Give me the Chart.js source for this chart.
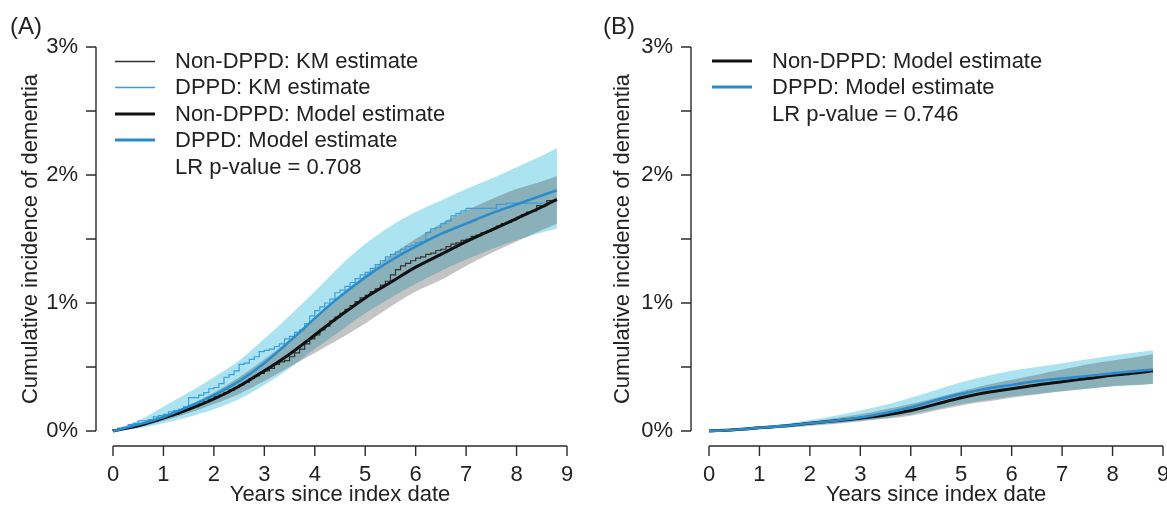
<!DOCTYPE html>
<html>
<head>
<meta charset="utf-8">
<script src="https://cdn.jsdelivr.net/npm/chart.js@4"></script>
<style>
  body { margin: 0; background: #fff; width: 1167px; height: 508px; overflow: hidden; position: relative; }
  .panel { position: absolute; top: 0; }
</style>
</head>
<body>
<div class="panel" style="left:0"><canvas id="chartA" width="583" height="508"></canvas></div>
<div class="panel" style="left:584px"><canvas id="chartB" width="583" height="508"></canvas></div>
<script>
// shared time grid of the model curves (years since index date)
const modelYears = [0, 0.5, 1, 1.5, 2, 2.5, 3, 3.5, 4, 4.5, 5, 5.5, 6, 6.5, 7, 7.5, 8, 8.5, 8.8];

// panel A, cumulative incidence in %
const aBlackModel = [0, 0.04, 0.10, 0.17, 0.25, 0.35, 0.47, 0.60, 0.75, 0.90, 1.04, 1.16, 1.28, 1.38, 1.48, 1.57, 1.66, 1.75, 1.81];
const aBlueModel = [0, 0.05, 0.11, 0.19, 0.28, 0.39, 0.53, 0.70, 0.88, 1.05, 1.20, 1.33, 1.44, 1.54, 1.62, 1.70, 1.77, 1.84, 1.88];
const aBlueUpper = [0, 0.08, 0.19, 0.30, 0.42, 0.55, 0.72, 0.90, 1.09, 1.29, 1.46, 1.60, 1.71, 1.80, 1.89, 1.97, 2.06, 2.15, 2.21];
const aBlueLower = [0, 0.02, 0.06, 0.11, 0.17, 0.25, 0.36, 0.49, 0.64, 0.78, 0.92, 1.04, 1.15, 1.25, 1.34, 1.42, 1.49, 1.55, 1.58];
const aGrayUpper = [0, 0.05, 0.12, 0.20, 0.30, 0.42, 0.56, 0.71, 0.87, 1.04, 1.22, 1.37, 1.50, 1.62, 1.72, 1.81, 1.89, 1.95, 1.99];
const aGrayLower = [0, 0.03, 0.08, 0.14, 0.21, 0.29, 0.39, 0.50, 0.61, 0.72, 0.84, 0.97, 1.09, 1.18, 1.29, 1.39, 1.48, 1.57, 1.62];

// Kaplan-Meier step estimates (panel A)
const blackKmTimes = [0, 0.1, 0.2, 0.3, 0.4, 0.5, 0.6, 0.7, 0.8, 0.9, 1.0, 1.1, 1.2, 1.3, 1.4, 1.5, 1.6, 1.7, 1.8, 1.9,
  2.0, 2.1, 2.2, 2.3, 2.4, 2.5, 2.6, 2.7, 2.8, 2.9, 3.0, 3.1, 3.2, 3.3, 3.4, 3.5, 3.6, 3.7, 3.8, 3.9,
  4.0, 4.1, 4.2, 4.3, 4.4, 4.5, 4.6, 4.7, 4.8, 4.9, 5.0, 5.1, 5.2, 5.3, 5.4, 5.5, 5.6, 5.7, 5.8, 5.9,
  6.0, 6.1, 6.2, 6.3, 6.4, 6.5, 6.6, 6.7, 6.8, 6.9, 7.0, 7.1, 7.2, 7.3, 7.4, 7.5, 7.6, 7.7, 7.8, 7.9,
  8.0, 8.1, 8.2, 8.3, 8.4, 8.5, 8.6, 8.8];
const blackKm = [0, 0.01, 0.02, 0.02, 0.03, 0.04, 0.05, 0.06, 0.07, 0.08, 0.10, 0.11, 0.12, 0.13, 0.15, 0.16, 0.18, 0.19, 0.21, 0.23,
  0.25, 0.27, 0.28, 0.30, 0.32, 0.34, 0.36, 0.38, 0.41, 0.43, 0.45, 0.47, 0.49, 0.52, 0.54, 0.55, 0.58, 0.61, 0.64, 0.68,
  0.72, 0.75, 0.79, 0.82, 0.86, 0.89, 0.92, 0.95, 0.98, 1.01, 1.04, 1.06, 1.09, 1.11, 1.14, 1.17, 1.22, 1.26, 1.29, 1.31,
  1.33, 1.35, 1.36, 1.38, 1.39, 1.41, 1.42, 1.44, 1.46, 1.47, 1.49, 1.50, 1.52, 1.53, 1.55, 1.56, 1.58, 1.60, 1.62, 1.63,
  1.65, 1.67, 1.69, 1.71, 1.72, 1.76, 1.76, 1.80];
const blueKmTimes = [0, 0.1, 0.2, 0.3, 0.4, 0.5, 0.6, 0.7, 0.8, 0.9, 1.0, 1.1, 1.2, 1.3, 1.4, 1.5, 1.6, 1.7, 1.8, 1.9,
  2.0, 2.1, 2.2, 2.3, 2.4, 2.5, 2.6, 2.7, 2.8, 2.9, 3.0, 3.1, 3.2, 3.3, 3.4, 3.5, 3.6, 3.7, 3.8, 3.9,
  4.0, 4.1, 4.2, 4.3, 4.4, 4.5, 4.6, 4.7, 4.8, 4.9, 5.0, 5.1, 5.2, 5.3, 5.4, 5.5, 5.6, 5.7, 5.8, 5.9,
  6.0, 6.1, 6.2, 6.3, 6.4, 6.5, 6.6, 6.7, 6.8, 6.9, 7.0, 7.6, 7.8, 8.6];
const blueKm = [0, 0.01, 0.02, 0.03, 0.05, 0.06, 0.08, 0.08, 0.09, 0.11, 0.12, 0.13, 0.15, 0.16, 0.17, 0.19, 0.26, 0.26, 0.28, 0.30,
  0.33, 0.34, 0.37, 0.42, 0.44, 0.47, 0.52, 0.53, 0.56, 0.58, 0.62, 0.63, 0.64, 0.66, 0.68, 0.72, 0.74, 0.77, 0.79, 0.84,
  0.90, 0.94, 0.97, 1.00, 1.03, 1.08, 1.10, 1.13, 1.16, 1.19, 1.22, 1.24, 1.27, 1.30, 1.33, 1.36, 1.38, 1.40, 1.42, 1.44,
  1.45, 1.47, 1.48, 1.55, 1.58, 1.59, 1.62, 1.64, 1.68, 1.70, 1.72, 1.74, 1.77, 1.78];

// panel B
const bBlackModel = [0, 0.01, 0.025, 0.04, 0.06, 0.08, 0.10, 0.125, 0.16, 0.21, 0.26, 0.30, 0.33, 0.36, 0.385, 0.41, 0.435, 0.455, 0.47];
const bBlueModel = [0, 0.01, 0.025, 0.04, 0.06, 0.08, 0.105, 0.14, 0.185, 0.24, 0.29, 0.33, 0.36, 0.39, 0.41, 0.43, 0.45, 0.47, 0.48];
const bBlueUpper = [0, 0.015, 0.035, 0.055, 0.085, 0.12, 0.16, 0.205, 0.26, 0.32, 0.38, 0.43, 0.47, 0.50, 0.53, 0.56, 0.59, 0.615, 0.63];
const bBlueLower = [0, 0.005, 0.015, 0.03, 0.045, 0.06, 0.08, 0.10, 0.13, 0.17, 0.21, 0.24, 0.27, 0.29, 0.31, 0.33, 0.35, 0.36, 0.37];
const bGrayUpper = [0, 0.012, 0.03, 0.05, 0.07, 0.10, 0.13, 0.17, 0.21, 0.26, 0.31, 0.36, 0.40, 0.44, 0.48, 0.52, 0.55, 0.58, 0.60];
const bGrayLower = [0, 0.005, 0.015, 0.025, 0.04, 0.055, 0.075, 0.095, 0.12, 0.16, 0.20, 0.23, 0.26, 0.285, 0.31, 0.33, 0.35, 0.36, 0.37];

const BLUE = "#2a8ccc";
const BLUE_KM = "#3a9edb";
const BLUE_BAND = "rgba(0,170,212,0.33)";
const GRAY_BAND = "rgba(60,60,60,0.30)";
const FONT = "'Liberation Sans', Arial, Helvetica, sans-serif";

Chart.defaults.font.family = FONT;
Chart.defaults.font.size = 22;
Chart.defaults.color = "#222";

function pts(xs, ys) {
  return xs.map((x, i) => ({ x, y: ys[i] }));
}

function curve(label, ys, color, width, order) {
  return {
    label, data: pts(modelYears, ys), borderColor: color, borderWidth: width,
    pointRadius: 0, cubicInterpolationMode: "monotone", fill: false, clip: false,
    legend: true, legendOrder: order,
  };
}

function km(label, xs, ys, color, order) {
  return {
    label, data: pts(xs, ys), borderColor: color, borderWidth: 1.2,
    pointRadius: 0, stepped: "after", fill: false, clip: false,
    legend: true, legendOrder: order,
  };
}

function band(ys, color, fillTarget) {
  return {
    data: pts(modelYears, ys), borderWidth: 0, borderColor: "transparent", backgroundColor: color,
    pointRadius: 0, cubicInterpolationMode: "monotone", fill: fillTarget, clip: false,
  };
}

// R-style axes: detached from the plot region, ticks pointing outward
const rAxes = {
  id: "rAxes",
  afterDraw(chart, args, opts) {
    const { ctx, chartArea, scales } = chart;
    const xs = scales.x, ys = scales.y;
    const ax = chartArea.left - opts.yGap;
    const ay = chartArea.bottom + opts.xGap;
    ctx.save();
    ctx.strokeStyle = "#2b2b2b";
    ctx.lineWidth = 1.4;
    ctx.beginPath();
    ctx.moveTo(ax, ys.getPixelForValue(ys.min));
    ctx.lineTo(ax, ys.getPixelForValue(ys.max));
    ys.ticks.forEach((t) => {
      const p = ys.getPixelForValue(t.value);
      ctx.moveTo(ax, p);
      ctx.lineTo(ax - 10, p);
    });
    ctx.moveTo(xs.getPixelForValue(xs.min), ay);
    ctx.lineTo(xs.getPixelForValue(xs.max), ay);
    xs.ticks.forEach((t) => {
      const p = xs.getPixelForValue(t.value);
      ctx.moveTo(p, ay);
      ctx.lineTo(p, ay + 10);
    });
    ctx.stroke();

    ctx.fillStyle = "#222";
    ctx.font = "22px " + FONT;
    ctx.textBaseline = "middle";
    ctx.textAlign = "right";
    ys.ticks.forEach((t) => {
      if (t.value % 1 === 0) ctx.fillText(t.value + "%", ax - 18, ys.getPixelForValue(t.value));
    });
    ctx.textAlign = "center";
    xs.ticks.forEach((t) => {
      ctx.fillText(String(t.value), xs.getPixelForValue(t.value), ay + 29);
    });

    ctx.textAlign = "left";
    ctx.font = "24px " + FONT;
    ctx.fillText(opts.panel, opts.panelX, 27);
    ctx.restore();
  },
};

// legend in the top-left of the plot, built from the line datasets
const inLegend = {
  id: "inLegend",
  afterDraw(chart, args, opts) {
    const { ctx, chartArea } = chart;
    const x0 = Math.round(chartArea.left + opts.dx);
    const rows = [61, 87, 114, 140, 167];
    ctx.save();
    ctx.font = "22px " + FONT;
    ctx.textBaseline = "middle";
    ctx.fillStyle = "#222";
    const items = chart.data.datasets.filter((d) => d.legend).sort((a, b) => a.legendOrder - b.legendOrder);
    items.forEach((d, i) => {
      const y = rows[i];
      const lw = d.borderWidth < 2 ? 1.5 : 3;
      ctx.strokeStyle = d.borderColor;
      ctx.lineWidth = lw;
      ctx.beginPath();
      ctx.moveTo(x0, y + (lw < 2 ? 0.5 : 0));
      ctx.lineTo(x0 + 40, y + (lw < 2 ? 0.5 : 0));
      ctx.stroke();
      ctx.fillText(d.label, x0 + 60, y + 1);
    });
    ctx.fillText(opts.note, x0 + 60, rows[items.length] + 1);
    ctx.restore();
  },
};

function makeChart(id, datasets, cfg) {
  return new Chart(document.getElementById(id), {
    type: "line",
    data: { datasets },
    options: {
      responsive: false,
      animation: false,
      events: [],
      layout: { padding: { left: cfg.padLeft, top: 47, right: cfg.padRight, bottom: 0 } },
      plugins: {
        legend: { display: false },
        tooltip: { enabled: false },
        rAxes: { yGap: cfg.yGap, xGap: 15, panel: cfg.panel, panelX: cfg.panelX },
        inLegend: { dx: cfg.legendDx, note: cfg.note },
      },
      scales: {
        x: {
          type: "linear", min: 0, max: 9,
          grid: { display: false, drawTicks: false }, border: { display: false },
          ticks: { display: false, stepSize: 1 },
          title: { display: true, text: "Years since index date", padding: 0 },
          afterFit(s) { s.height = 77; s.paddingLeft = 0; s.paddingRight = 0; },
        },
        y: {
          min: 0, max: 3,
          grid: { display: false, drawTicks: false }, border: { display: false },
          ticks: { display: false, stepSize: 0.5 },
          title: { display: true, text: "Cumulative incidence of dementia", padding: { top: cfg.titlePad, bottom: 0 } },
          afterFit(s) { s.width = 113; s.paddingTop = 0; s.paddingBottom = 0; },
        },
      },
    },
    plugins: [rAxes, inLegend],
  });
}

makeChart("chartA", [
  curve("DPPD: Model estimate", aBlueModel, BLUE, 2.6, 4),
  curve("Non-DPPD: Model estimate", aBlackModel, "#111", 3, 3),
  km("DPPD: KM estimate", blueKmTimes, blueKm, BLUE_KM, 2),
  km("Non-DPPD: KM estimate", blackKmTimes, blackKm, "#333", 1),
  band(aGrayUpper, GRAY_BAND, "+1"), band(aGrayLower, "transparent", false),
  band(aBlueUpper, BLUE_BAND, "+1"), band(aBlueLower, "transparent", false),
], { padLeft: 0, padRight: 16, yGap: 17, titlePad: 18, panel: "(A)", panelX: 10, legendDx: 2, note: "LR p-value = 0.708" });

makeChart("chartB", [
  curve("DPPD: Model estimate", bBlueModel, BLUE, 2.6, 2),
  curve("Non-DPPD: Model estimate", bBlackModel, "#111", 3, 1),
  band(bGrayUpper, GRAY_BAND, "+1"), band(bGrayLower, "transparent", false),
  band(bBlueUpper, BLUE_BAND, "+1"), band(bBlueLower, "transparent", false),
], { padLeft: 12, padRight: 4, yGap: 18, titlePad: 14, panel: "(B)", panelX: 19, legendDx: 3, note: "LR p-value = 0.746" });
</script>
</body>
</html>
